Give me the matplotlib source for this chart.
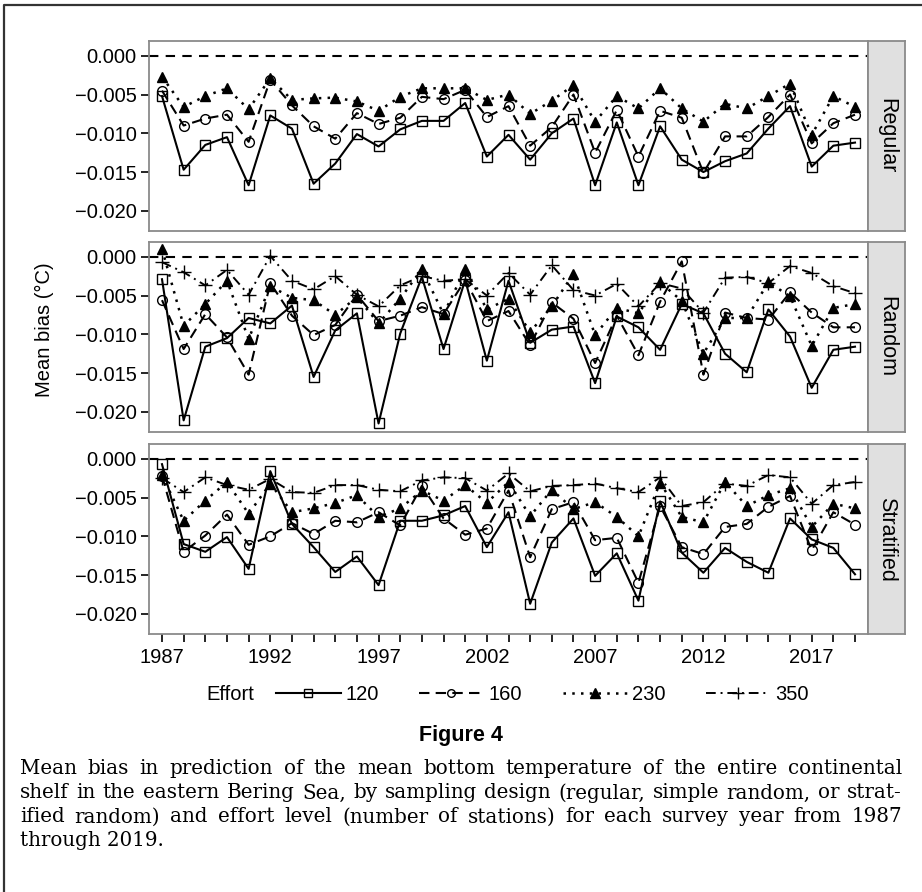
import matplotlib
matplotlib.use("Agg")
import matplotlib.pyplot as plt
from matplotlib.lines import Line2D
import numpy as np

years = list(range(1987, 2020))

# Mean bias values (x 0.001 degC)
regular_120 = [-5.2, -14.7, -11.5, -10.5, -16.7, -7.7, -9.4, -16.5, -13.9, -10.1, -11.7,
               -9.5, -8.4, -8.4, -6.1, -13.0, -10.2, -13.4, -10.0, -8.1, -16.7, -8.6,
               -16.7, -9.1, -13.4, -15.0, -13.6, -12.6, -9.4, -6.5, -14.3, -11.6, -11.2]
regular_160 = [-4.5, -9.0, -8.1, -7.6, -11.1, -3.1, -6.4, -9.1, -10.7, -7.4, -8.8,
               -8.0, -5.3, -5.6, -4.4, -7.9, -6.5, -11.6, -9.2, -5.0, -12.5, -7.0,
               -13.0, -7.1, -8.0, -15.1, -10.4, -10.4, -7.9, -5.0, -11.3, -8.7, -7.6]
regular_230 = [-2.7, -6.6, -5.2, -4.2, -6.9, -2.9, -5.7, -5.5, -5.4, -5.9, -7.1,
               -5.3, -4.2, -4.2, -4.2, -5.7, -5.0, -7.5, -5.8, -3.8, -8.5, -5.2,
               -6.8, -4.2, -6.8, -8.5, -6.2, -6.8, -5.2, -3.6, -10.2, -5.2, -6.6]
regular_350 = None  # no 350-station regular design

random_120 = [-2.9, -21.1, -11.6, -10.5, -7.9, -8.6, -6.3, -15.5, -9.5, -7.3, -21.5,
              -9.9, -2.6, -11.9, -3.0, -13.4, -3.1, -11.1, -9.4, -9.0, -16.3, -7.7,
              -9.1, -12.0, -6.1, -7.3, -12.5, -14.9, -6.8, -10.3, -16.9, -12.0, -11.6]
random_160 = [-5.6, -11.9, -7.4, -10.4, -15.2, -3.4, -7.6, -10.1, -8.8, -4.9, -8.3,
              -7.6, -6.5, -7.4, -3.0, -8.3, -7.0, -11.4, -5.9, -8.0, -13.7, -7.6,
              -12.7, -5.8, -0.6, -15.2, -7.2, -7.9, -8.1, -4.6, -7.2, -9.1, -9.1]
random_230 = [1.0, -8.9, -6.1, -3.1, -10.6, -3.8, -5.3, -5.6, -7.5, -5.2, -8.6,
              -5.4, -1.6, -7.4, -1.6, -6.8, -5.4, -9.7, -6.4, -2.2, -10.1, -6.6,
              -7.3, -3.3, -5.7, -12.5, -7.9, -7.9, -3.3, -5.1, -11.5, -6.6, -6.1]
random_350 = [-0.7, -2.0, -3.7, -1.7, -4.9, 0.1, -3.1, -4.2, -2.5, -4.9, -6.4,
              -3.7, -2.5, -3.1, -2.9, -5.0, -2.1, -4.9, -1.1, -4.3, -5.0, -3.5,
              -6.4, -3.4, -4.1, -7.2, -2.7, -2.6, -3.4, -1.2, -2.1, -3.8, -4.7]

stratified_120 = [-0.7, -11.0, -12.0, -10.1, -14.2, -1.6, -8.4, -11.4, -14.6, -12.6, -16.3,
                  -8.0, -8.0, -7.3, -6.1, -11.4, -6.9, -18.7, -10.8, -7.7, -15.1, -12.2,
                  -18.3, -5.5, -12.1, -14.7, -11.5, -13.3, -14.7, -7.7, -10.4, -11.5, -14.9]
stratified_160 = [-2.2, -12.0, -9.9, -7.2, -11.1, -10.0, -8.3, -9.7, -8.0, -8.2, -6.9,
                  -8.6, -3.5, -7.7, -9.8, -9.0, -4.1, -12.7, -6.5, -5.6, -10.5, -10.2,
                  -16.0, -6.1, -11.4, -12.3, -8.8, -8.4, -6.2, -4.8, -11.8, -6.9, -8.5]
stratified_230 = [-2.1, -8.0, -5.4, -3.0, -7.1, -3.2, -6.9, -6.4, -5.7, -4.7, -7.5,
                  -6.4, -4.1, -5.4, -3.4, -5.7, -3.0, -7.4, -4.0, -6.5, -5.6, -7.5,
                  -10.0, -3.1, -7.5, -8.2, -3.0, -6.1, -4.7, -3.8, -8.8, -5.8, -6.4]
stratified_350 = [-2.5, -4.3, -2.4, -3.4, -4.0, -2.6, -4.3, -4.4, -3.4, -3.4, -4.0,
                  -4.2, -2.8, -2.4, -2.5, -4.1, -1.9, -4.2, -3.5, -3.4, -3.2, -3.8,
                  -4.3, -2.4, -6.1, -5.6, -3.2, -3.5, -2.1, -2.4, -5.8, -3.4, -3.0]

designs = ["Regular", "Random", "Stratified"]
efforts = ["120", "160", "230", "350"]
panel_data = [
    [regular_120, regular_160, regular_230, regular_350],
    [random_120, random_160, random_230, random_350],
    [stratified_120, stratified_160, stratified_230, stratified_350],
]

styles = {
    "120": dict(ls="-", marker="s", ms=6.5, mfc="none", lw=1.5),
    "160": dict(ls=(0, (5, 3)), marker="o", ms=7, mfc="none", lw=1.5),
    "230": dict(ls=(0, (1, 2.5)), marker="^", ms=7.5, mfc="black", lw=1.8),
    "350": dict(ls=(0, (5, 2.5, 1, 2.5)), marker="+", ms=10, mfc="none", lw=1.4),
}

plt.rcParams["font.family"] = ["Liberation Sans", "DejaVu Sans"]

W, H = 922, 892
fig = plt.figure(figsize=(W / 100, H / 100), dpi=100)

left = 149 / W
width = (868 - 149) / W
strip_w = 37 / W
tops = [41, 242, 444]
ph = 190

frame_col = "#8a8a8a"
for i, design in enumerate(designs):
    bottom = 1 - (tops[i] + ph) / H
    ax = fig.add_axes([left, bottom, width, ph / H])
    ax.axhline(0, color="black", lw=1.5, ls=(0, (4.5, 3.5)), zorder=1)
    for eff, vals in zip(efforts, panel_data[i]):
        if vals is None:
            continue
        y = np.array(vals) / 1000.0
        ax.plot(years, y, color="black", mec="black", mew=1.0, zorder=2, **styles[eff])
    ax.set_xlim(1986.4, 2019.6)
    ax.set_ylim(-0.0226, 0.0019)
    ax.set_yticks([0, -0.005, -0.01, -0.015, -0.02])
    ax.set_yticklabels(["0.000", "\u22120.005", "\u22120.010", "\u22120.015", "\u22120.020"])
    ax.tick_params(axis="y", length=6, width=1.2, labelsize=14.5, pad=3)
    if i == 2:
        ax.set_xticks(years)
        ax.set_xticklabels([str(y) if (y - 1987) % 5 == 0 else "" for y in years])
        ax.tick_params(axis="x", length=6, width=1.2, labelsize=14.5, pad=4)
    else:
        ax.set_xticks([])
    for s in ax.spines.values():
        s.set_color(frame_col)
        s.set_linewidth(1.3)

    sax = fig.add_axes([left + width, bottom, strip_w, ph / H])
    sax.set_facecolor("#e0e0e0")
    sax.set_xticks([])
    sax.set_yticks([])
    for s in sax.spines.values():
        s.set_color(frame_col)
        s.set_linewidth(1.3)
    sax.text(0.5, 0.5, design, rotation=270, ha="center", va="center",
             fontsize=15.5, transform=sax.transAxes)

fig.text(0.048, 1 - 330 / H, "Mean bias (\u00b0C)", rotation=90, ha="center", va="center",
         fontsize=14.5)

# legend
handles = [Line2D([], [], color="black", mec="black", mew=1.0, **styles[e]) for e in efforts]
handles[0].set_markersize(5.5)
handles[1].set_markersize(5.5)
handles[2].set_markersize(6.5)
handles[3].set_markersize(9)
fig.text(206 / W, 1 - 695 / H, "Effort", ha="left", va="center", fontsize=14.5)
fig.legend(handles, efforts, loc="center left", bbox_to_anchor=(258 / W, 1 - 695 / H), ncol=4,
           frameon=False, fontsize=14.5, handlelength=3.2, handletextpad=0.25,
           columnspacing=2.0, numpoints=1)

fig.text(0.5, 1 - 736 / H, "Figure 4", ha="center", va="center", fontsize=15.5,
         fontweight="bold")

# caption, justified
caption = [
    "Mean bias in prediction of the mean bottom temperature of the entire continental",
    "shelf in the eastern Bering Sea, by sampling design (regular, simple random, or strat-",
    "ified random) and effort level (number of stations) for each survey year from 1987",
    "through 2019.",
]
cap_y = [769, 793, 817, 841]
x0, x1 = 20, 902
serif = ["DejaVu Serif"]
fig.canvas.draw()
r = fig.canvas.get_renderer()


def text_w(s, fs):
    t = fig.text(0, 0, s, fontsize=fs, family=serif)
    w = t.get_window_extent(renderer=r).width
    t.remove()
    return w


fs = 14.0
natural = max(text_w(line, fs) for line in caption[:3])
fs = fs * (x1 - x0) / natural * 0.985

for k, line in enumerate(caption):
    yy = 1 - cap_y[k] / H
    if k == len(caption) - 1:
        fig.text(x0 / W, yy, line, fontsize=fs, family=serif, va="center", ha="left")
        continue
    words = line.split(" ")
    ws = [text_w(w, fs) for w in words]
    gap = (x1 - x0 - sum(ws)) / (len(words) - 1)
    x = x0
    for w, wd in zip(words, ws):
        fig.text(x / W, yy, w, fontsize=fs, family=serif, va="center", ha="left")
        x += wd + gap

# outer frame (left and top edges)
fig.add_artist(Line2D([4 / W, 4 / W, 1.0], [0.0, 1 - 5 / H, 1 - 5 / H],
                      transform=fig.transFigure, color="#333333", lw=1.6))

fig.savefig("out.png", dpi=100)
